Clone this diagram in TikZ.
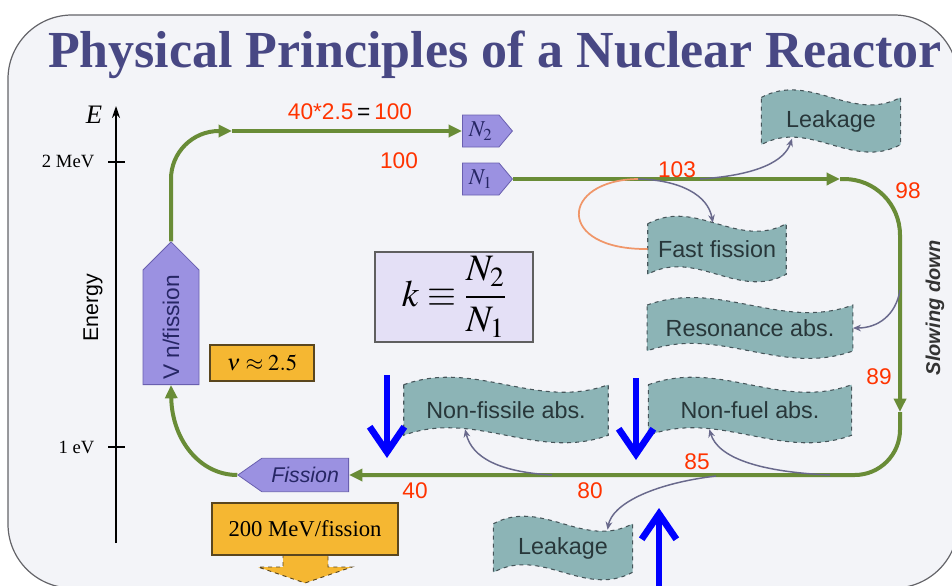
\documentclass[tikz,border=0pt]{standalone}
\usepackage{amsmath}
\usepackage{mathptmx}
\usepackage{fontspec}
\setmainfont{Liberation Serif}
\setsansfont{Liberation Sans}
\usepackage{xcolor}
\usetikzlibrary{arrows.meta,shapes.symbols,calc}

\pgfdeclarelayer{background}
\pgfsetlayers{background,main}

\definecolor{paper}{RGB}{243,244,248}
\definecolor{framegray}{RGB}{100,100,105}
\definecolor{titleblue}{RGB}{72,72,132}
\definecolor{flowgreen}{RGB}{105,140,55}
\definecolor{lossgray}{RGB}{105,105,140}
\definecolor{loopred}{RGB}{240,150,105}
\definecolor{numred}{RGB}{255,51,0}
\definecolor{purplefill}{RGB}{155,145,225}
\definecolor{purpledraw}{RGB}{105,95,175}
\definecolor{navytext}{RGB}{38,38,100}
\definecolor{tealfill}{RGB}{140,180,182}
\definecolor{tealdraw}{RGB}{70,85,90}
\definecolor{tealtext}{RGB}{40,55,58}
\definecolor{orangefill}{RGB}{245,183,50}
\definecolor{orangedraw}{RGB}{90,70,30}
\definecolor{kfill}{RGB}{228,224,246}
\definecolor{kdraw}{RGB}{95,95,95}

\tikzset{
  flow/.style={draw=flowgreen, line width=3pt, -{Triangle[length=10pt,width=9pt]}},
  loss/.style={draw=lossgray, line width=1.1pt, -{Stealth[length=6pt,width=5pt]}},
  marker/.style={draw=blue, line width=5pt, -{Straight Barb[length=19pt,width=26pt]}},
  purplebox/.style={signal, fill=purplefill, draw=purpledraw, line width=0.6pt, inner sep=1pt, text=navytext, font=\sffamily\fontsize{17}{19}\selectfont},
  wavetext/.style={inner sep=0pt, text=tealtext, font=\sffamily\fontsize{17.5}{19}\selectfont},
  wavebox/.style={fill=tealfill, draw=tealdraw, dashed, line width=0.8pt},
  orangebox/.style={rectangle, fill=orangefill, draw=orangedraw, line width=1.2pt, font=\fontsize{17}{19}\selectfont},
  numlabel/.style={inner sep=0pt, text=numred, font=\sffamily\fontsize{17}{19}\selectfont},
}

% wavy outline behind a named text node
\newcommand{\wavy}[1]{%
  \begin{pgfonlayer}{background}
  \draw[wavebox] (#1.north west) .. controls ($(#1.north west)!0.35!(#1.north east)+(0,-26)$) and ($(#1.north west)!0.65!(#1.north east)+(0,26)$) .. (#1.north east) -- (#1.south east) .. controls ($(#1.south west)!0.65!(#1.south east)+(0,26)$) and ($(#1.south west)!0.35!(#1.south east)+(0,-26)$) .. (#1.south west) -- cycle;
  \end{pgfonlayer}}

\begin{document}
\begin{tikzpicture}[x=0.75pt,y=0.75pt,yscale=-1,xscale=1]
\path[use as bounding box] (0,0) rectangle (952,585);

%Shape: Frame
\begin{pgfonlayer}{background}
\fill[white] (0,0) rectangle (952,585);
\draw[draw=framegray, fill=paper, line width=0.9pt, rounded corners=48pt] (8,15) rectangle (958,588);
\end{pgfonlayer}

% Text Node
\node[font=\bfseries\fontsize{39}{42}\selectfont, text=titleblue] (title) at (495,55) {Physical Principles of a Nuclear Reactor};

%Straight Lines: energy axis
\coordinate (axisBot) at (116,543);
\coordinate (axisTop) at (116,106);
\draw[line width=1pt, -{Stealth[length=9pt,width=6pt]}] (axisBot) -- (axisTop);
\draw[line width=0.9pt] (108,162) -- (125,162);
\draw[line width=0.9pt] (108,447) -- (125,447);
% Text Node
\node[font=\itshape\fontsize{20}{22}\selectfont] (elabel) at (94,115) {E};
\node[anchor=east, font=\fontsize{14}{16}\selectfont] (mevlabel) at (99,161) {2 MeV};
\node[anchor=east, font=\fontsize{14}{16}\selectfont] (evlabel) at (99,447) {1 eV};
\node[rotate=90, font=\sffamily\fontsize{16}{18}\selectfont] (energylabel) at (93,308) {Energy};

%Shape: purple signals
\node[purplebox, rotate=90, signal pointer angle=90, minimum width=107pt, minimum height=42pt, anchor=west] (vbox) at (171,385) {V n/fission};
\node[purplebox, signal pointer angle=100, minimum width=37.5pt, minimum height=24pt, anchor=west] (n2) at (462,131) {$N_2$};
\node[purplebox, signal pointer angle=100, minimum width=37.5pt, minimum height=24pt, anchor=west] (n1) at (462,179) {$N_1$};
\node[purplebox, signal to=west, signal pointer angle=70, minimum width=83pt, minimum height=25pt, anchor=east, font=\sffamily\itshape\fontsize{16}{18}\selectfont] (fission) at (349,475) {Fission};

%Shape: orange boxes
\node[orangebox, minimum width=78pt, minimum height=27pt] (nubox) at (262,363) {$\nu\approx 2.5$};
\draw[fill=orangefill, draw=orangedraw, dashed, line width=0.7pt] (283,554) -- (283,567) -- (258,567) -- (305,583) -- (352,567) -- (328,567) -- (328,554);
\node[orangebox, minimum width=139.5pt, minimum height=39pt] (energybox) at (305,529) {200 MeV/fission};

%Shape: k ratio
\node[draw=kdraw, fill=kfill, line width=1.5pt, minimum width=118pt, minimum height=65pt, font=\fontsize{28}{30}\selectfont] (kratio) at (454,297) {$k\equiv\dfrac{N_2}{N_1}$};

%Shape: wavy loss boxes
\node[wavetext, minimum width=104pt, minimum height=35pt] (leakTop) at (831,121) {Leakage};
\node[wavetext, minimum width=103.5pt, minimum height=37.5pt] (fastFis) at (717,249) {Fast fission};
\node[wavetext, minimum width=154pt, minimum height=34pt] (resAbs) at (750,328) {Resonance abs.};
\node[wavetext, minimum width=153pt, minimum height=37.5pt] (nonFis) at (506,410) {Non-fissile abs.};
\node[wavetext, minimum width=152pt, minimum height=37.5pt] (nonFuel) at (750,410) {Non-fuel abs.};
\node[wavetext, minimum width=104pt, minimum height=36pt] (leakBot) at (563,548) {Leakage};
\wavy{leakTop}
\wavy{fastFis}
\wavy{resAbs}
\wavy{nonFis}
\wavy{nonFuel}
\wavy{leakBot}

% Text Node
\node[rotate=90, font=\sffamily\bfseries\itshape\fontsize{15}{17}\selectfont, text=black!80] (slowlabel) at (935,308) {Slowing down};

%Straight Lines: neutron cycle
\coordinate (topMid) at (232,131);
\draw[flow, rounded corners=36pt] (vbox.east) |- (topMid);
\draw[flow] (topMid) -- (n2.west);
\coordinate (n1Mid) at (840,179);
\draw[flow] (n1.east) -- (n1Mid);
\coordinate (slowMid) at (900,412);
\draw[flow, rounded corners=42pt] (n1Mid) -| (slowMid);
\draw[flow, rounded corners=34pt] (slowMid) |- (fission.east);
\draw[flow] (fission.west) .. controls (200,475) and (172,440) .. (vbox.west);

%Curve Lines: losses
\coordinate (lkTopStart) at (700,179);
\draw[loss] (lkTopStart) .. controls (760,175) and (785,160) .. ($(leakTop.south west)!0.22!(leakTop.south east)+(0,-6)$);
\coordinate (fastStart) at (638,179);
\draw[loss] (fastStart) .. controls (680,180) and (708,195) .. ($(fastFis.north west)!0.47!(fastFis.north east)+(0,-1)$);
\draw[draw=loopred, line width=1.3pt] (fastFis.west) .. controls (555,250) and (560,180) .. (fastStart);
\coordinate (resStart) at (900,290);
\draw[loss] (resStart) .. controls (896,315) and (878,328) .. (resAbs.east);
\coordinate (nfStart) at (552,475);
\draw[loss] (nfStart) .. controls (500,472) and (472,458) .. ($(nonFis.south west)!0.3!(nonFis.south east)+(0,-6)$);
\coordinate (nuStart) at (830,475);
\draw[loss] (nuStart) .. controls (760,472) and (718,458) .. ($(nonFuel.south west)!0.3!(nonFuel.south east)+(0,-6)$);
\coordinate (lkBotStart) at (716,476);
\draw[loss] (lkBotStart) .. controls (650,484) and (612,505) .. ($(leakBot.north west)!0.82!(leakBot.north east)+(0,6)$);

% Text Node: counts
\node[numlabel] (countTop) at (350,112) {40*2.5\,{\color{black}=}\,100};
\node[numlabel] (countN2) at (399,161) {100};
\node[numlabel] (countFast) at (677,170) {103};
\node[numlabel] (countLeak) at (908,191) {98};
\node[numlabel] (countRes) at (879,377) {89};
\node[numlabel] (countFuel) at (697,462) {85};
\node[numlabel] (countFis) at (590,491) {80};
\node[numlabel] (countAbs) at (415,491) {40};

%Straight Lines: blue markers
\coordinate (markA) at (387,375);
\coordinate (markAend) at (387,458);
\draw[marker] (markA) -- (markAend);
\coordinate (markB) at (636,378);
\coordinate (markBend) at (636,460);
\draw[marker] (markB) -- (markBend);
\coordinate (markC) at (659,590);
\coordinate (markCend) at (659,508);
\draw[marker] (markC) -- (markCend);
\end{tikzpicture}
\end{document}
